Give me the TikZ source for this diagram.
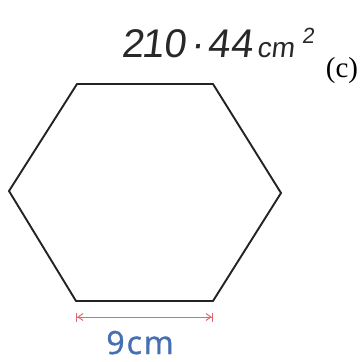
\documentclass[tikz,border=0pt]{standalone}
\usepackage{fontspec}
\usetikzlibrary{arrows.meta}
\newfontfamily\labsans[FakeBold=1.2]{Open Sans}
\newfontfamily\partserif{Liberation Serif}
\newfontfamily\handfont[FakeSlant=0.12]{Liberation Sans}
\definecolor{hexline}{RGB}{35,35,35}
\definecolor{dimred}{RGB}{226,104,112}
\definecolor{dimblue}{RGB}{70,112,178}
\definecolor{inkgray}{RGB}{40,40,40}
\begin{document}
\begin{tikzpicture}[x=1pt,y=-1pt,
  hexside/.style={draw=hexline,line width=1.9pt,line join=round},
  dimline/.style={draw=dimred,line width=1pt,{Bar[width=9pt,line width=1.2pt]Straight Barb[length=5pt,width=7pt]}-{Straight Barb[length=5pt,width=7pt]Bar[width=9pt,line width=1.2pt]}},
  dimlabel/.style={text=dimblue,inner sep=0pt,anchor=base},
  partlabel/.style={inner sep=0pt},
  handtext/.style={text=inkgray,inner sep=0pt,anchor=base west}]
\useasboundingbox (0,0) rectangle (363,361);
\fill[white] (0,0) rectangle (363,361);
\coordinate (tl) at (77,84);
\coordinate (tr) at (213,84);
\coordinate (r) at (281,193);
\coordinate (br) at (213,301);
\coordinate (bl) at (76,301);
\coordinate (l) at (9,191);
\draw[hexside] (tl) -- (tr) -- (r) -- (br) -- (bl) -- (l) -- cycle;
\coordinate (da) at (76,317);
\coordinate (db) at (213,317);
\draw[dimline] (da) -- (db);
\node[dimlabel] (nine) at (140,354) {\labsans\fontsize{32}{36}\selectfont 9\kern2pt c\kern2pt m};
\node[partlabel] (pc) at (342,71) {\partserif\fontsize{29}{32}\selectfont (c)};
\node[handtext] (area) at (121,57) {\handfont\fontsize{40}{44}\selectfont 2\kern-2pt 1\kern0pt 0\kern5pt ·\kern3pt 4\kern1pt 4\kern4pt{\fontsize{28}{30}\selectfont cm}};
\node[text=inkgray,inner sep=0pt] (sq) at (308,36) {\handfont\fontsize{22}{24}\selectfont 2};
\end{tikzpicture}
\end{document}
